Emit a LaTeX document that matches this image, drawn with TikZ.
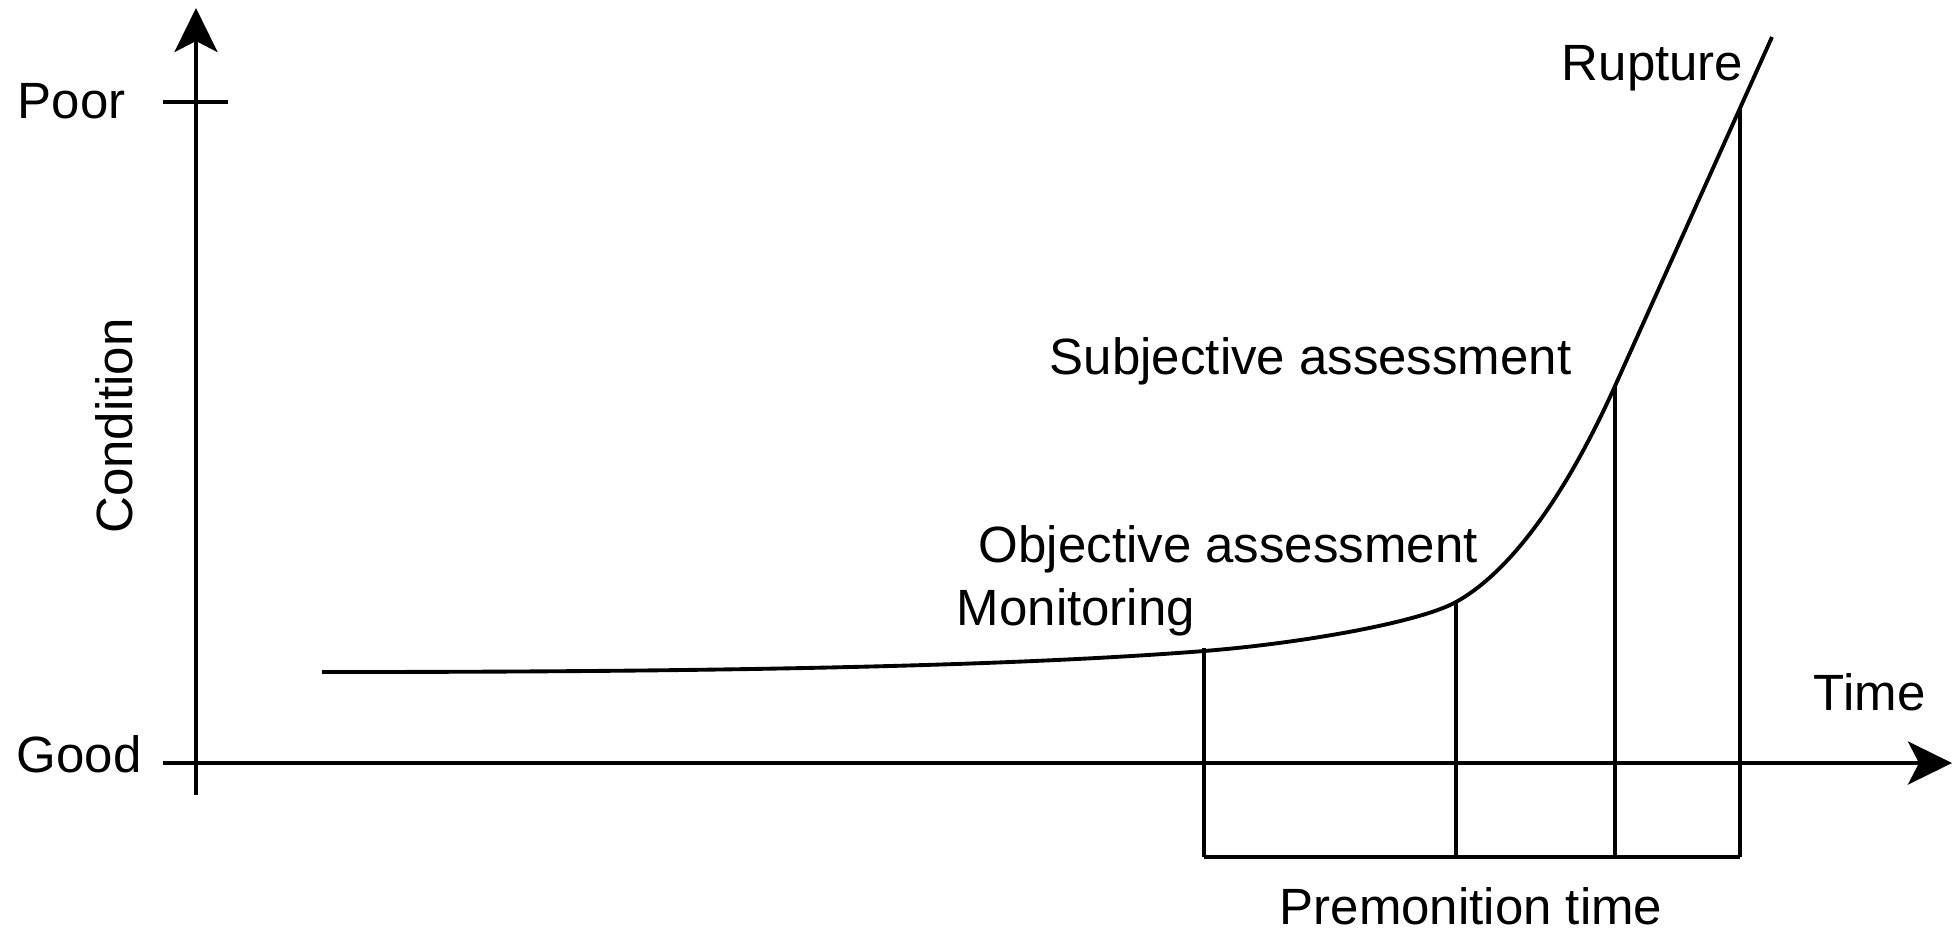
\documentclass[tikz,border=0pt]{standalone}
\usepackage{fontspec}
\setmainfont{Liberation Sans}
\usetikzlibrary{arrows.meta,positioning}

\begin{document}
\begin{tikzpicture}[x=0.01cm,y=-0.01cm,line width=1.1pt,
  >={Stealth[length=4.4mm,width=4.3mm,inset=1.1mm]},
  lbl/.style={inner sep=0pt,font=\fontsize{14.5}{17}\selectfont}]
\useasboundingbox (0,0) rectangle (1957,935);
%
\coordinate (ybot) at (196,795);
\coordinate (ytop) at (196,8);
\coordinate (xleft) at (163,763);
\coordinate (xright) at (1952,763);
\coordinate (pl) at (163,102);
\coordinate (pr) at (228,102);
\draw [->] (ybot) -- (ytop);
\draw [->] (xleft) -- (xright);
\draw (pl) -- (pr);

% labels on the axes
\node [lbl,anchor=base west] (poor) at (16,118) {Poor};
\node [lbl,anchor=base west] (good) at (15,772) {Good};
\node [lbl,anchor=base,rotate=90] (cond) at (133,426) {Condition};
\node [lbl,anchor=base west] (time) at (1812,710) {Time};

% the condition curve
\draw (322,672) .. controls (700,672) and (1000,667) .. (1204,651)
  .. controls (1304,643) and (1420,622) .. (1456,602)
  .. controls (1510,572) and (1565,497) .. (1615,386) -- (1772,37);

% points on the curve and below
\coordinate (mon) at (1204,648);
\coordinate (obj) at (1456,603);
\coordinate (subj) at (1615,386);
\coordinate (rup) at (1740,107);
\coordinate (mon_b) at (1204,857);
\coordinate (obj_b) at (1456,857);
\coordinate (subj_b) at (1615,857);
\coordinate (rup_b) at (1740,857);
\draw (mon) -- (mon_b);
\draw (obj) -- (obj_b);
\draw (subj) -- (subj_b);
\draw (rup) -- (rup_b);
\draw (mon_b) -- (rup_b);

\node [lbl,anchor=base west] (rupture) at (1560,80) {Rupture};
\node [lbl,anchor=base west] (subjass) at (1048,374) {Subjective assessment};
\node [lbl,anchor=base west] (objass) at (977,562) {Objective assessment};
\node [lbl,anchor=base west] (monit) at (955,625) {Monitoring};
\node [lbl,anchor=base] (premon) at (1471,924) {Premonition time};
\end{tikzpicture}
\end{document}
